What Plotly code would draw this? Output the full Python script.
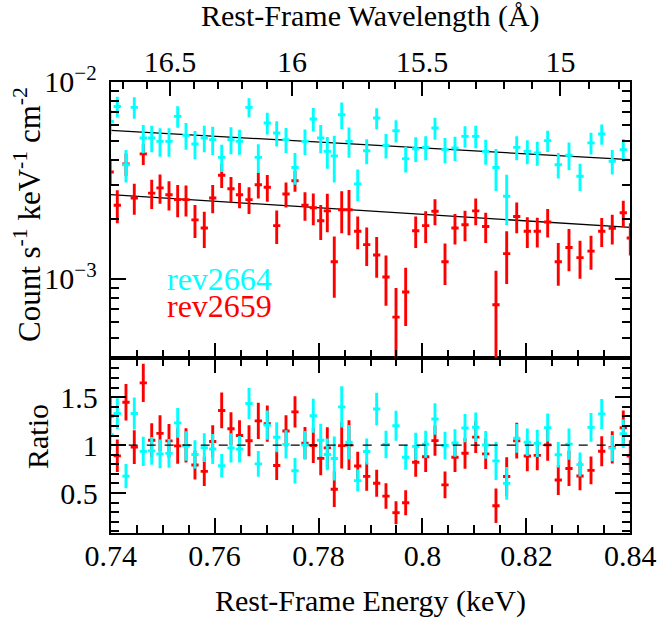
import numpy as np
import plotly.graph_objects as go

# ---------------- data ----------------
ENERGY_KEV = [0.7399, 0.74127, 0.74294, 0.74454, 0.74627, 0.74789, 0.74949, 0.75122, 0.75289, 0.75449,
              0.75622, 0.75801, 0.75963, 0.76136, 0.76315, 0.76479, 0.76662, 0.76841, 0.77014, 0.77195,
              0.77374, 0.77547, 0.77739, 0.77899, 0.78042, 0.78169, 0.78303, 0.78446, 0.78586, 0.78754,
              0.78927, 0.79119, 0.79298, 0.79491, 0.79677, 0.79870, 0.80062, 0.80241, 0.80434, 0.80626,
              0.80819, 0.81025, 0.81217, 0.81415, 0.81621, 0.81814, 0.82018, 0.82210, 0.82410, 0.82614,
              0.82820, 0.83032, 0.83244, 0.83450, 0.83653, 0.83865, 0.84000]

RATE_UNIT = 1e-3  # counts s^-1 keV^-1 cm^-2

# rev2664 (cyan)
CYAN_RATE = [6.28, 7.49, 3.79, 7.41, 5.18, 5.18, 4.98, 4.98, 6.67, 5.34,
             4.83, 5.18, 5.08, 4.13, 5.08, 4.98, 7.41, 4.13, 6.17, 5.49,
             5.08, 3.67, 4.98, 6.47, 5.18, 4.43, 4.20, 6.80, 4.98, 3.03,
             4.46, 6.54, 4.75, 5.64, 4.07, 4.57, 4.64, 5.82, 4.52, 4.61,
             5.28, 5.28, 4.43, 3.67, 2.62, 4.64, 4.43, 4.35, 5.02, 3.79,
             4.23, 3.31, 4.89, 5.43, 3.94, 4.52, None]
CYAN_ERR = [0.90, 0.90, 0.71, 0.93, 0.85, 0.80, 0.82, 0.82, 0.84, 0.83,
            0.79, 0.80, 0.83, 0.65, 0.80, 0.72, 0.83, 0.69, 0.78, 0.80,
            0.74, 0.67, 0.74, 0.88, 0.85, 0.81, 1.12, 1.05, 0.87, 0.55,
            0.65, 0.80, 0.68, 0.73, 0.61, 0.66, 0.65, 0.75, 0.66, 0.65,
            0.66, 0.69, 0.64, 0.88, 0.75, 0.65, 0.62, 0.61, 0.62, 0.56,
            0.68, 0.52, 0.62, 0.64, 0.56, 0.60, None]

# rev2659 (red)
RED_RATE = [3.48, 2.36, 3.82, 2.57, 4.30, 2.72, 2.89, 2.67, 2.52, 2.52,
            1.99, 1.81, 2.57, 3.35, 2.86, 2.67, 2.52, 3.00, 2.91, 1.86,
            2.69, 3.14, 2.36, 2.29, 1.97, 2.21, 1.22, 2.24, 2.24, 1.74,
            1.49, 1.32, 1.02, 0.638, 0.856, 1.75, 1.86, 2.20, 1.22, 1.81,
            1.88, 2.21, 1.84, 0.738, 1.34, 2.07, 1.74, 1.74, 1.94, 1.22,
            1.44, 1.28, 1.38, 1.74, 1.80, 2.16, 1.61]
RED_ERR = [0.50, 0.45, 0.50, 0.46, 0.52, 0.46, 0.49, 0.45, 0.47, 0.45,
           0.38, 0.38, 0.42, 0.46, 0.42, 0.39, 0.39, 0.45, 0.45, 0.36,
           0.39, 0.38, 0.39, 0.42, 0.40, 0.49, 0.42, 0.54, 0.58, 0.33,
           0.33, 0.31, 0.29, 0.26, 0.28, 0.32, 0.34, 0.33, 0.29, 0.32,
           0.33, 0.34, 0.32, 0.36, 0.40, 0.37, 0.31, 0.30, 0.32, 0.30,
           0.35, 0.28, 0.27, 0.29, 0.31, 0.33, 0.30]

BIN_HALF_WIDTH_KEV = 0.0007

# continuum models (power law, straight in log space over this band)
MODEL_E = [0.74, 0.84]
CYAN_MODEL = [5.66, 4.02]
RED_MODEL = [2.67, 1.82]

SERIES_NAMES = ["rev2664", "rev2659"]
WAVE_MAJOR = [16.5, 16.0, 15.5, 15.0]
WAVE_LABELS = ["16.5", "16", "15.5", "15"]
HC_KEV_A = 12.3984

# ---------------- derived ----------------
def arr(v):
    return np.array([np.nan if x is None else x for x in v], dtype=float)

E = np.array(ENERGY_KEV)
cy, cye = arr(CYAN_RATE) * RATE_UNIT, arr(CYAN_ERR) * RATE_UNIT
rd, rde = arr(RED_RATE) * RATE_UNIT, arr(RED_ERR) * RATE_UNIT
cm = np.array(CYAN_MODEL) * RATE_UNIT
rm = np.array(RED_MODEL) * RATE_UNIT

def model_at(e, mvals):
    return 10 ** np.interp(e, MODEL_E, np.log10(mvals))

cy_model = model_at(E, cm)
rd_model = model_at(E, rm)
cy_ratio, cy_ratio_err = cy / cy_model, cye / cy_model
rd_ratio, rd_ratio_err = rd / rd_model, rde / rd_model

CYAN = "#00FFFF"
RED = "#FF0000"
FONT = "Liberation Serif"
W, H = 661, 619

xdom = [110.7 / W, 630.3 / W]
top_dom = [(H - 357.7) / H, (H - 81.7) / H]
bot_dom = [(H - 533.0) / H, (H - 357.7) / H]

fig = go.Figure()

def data_trace(x, y, ey, color, xa, ya):
    return go.Scatter(
        x=x, y=y, mode="markers", xaxis=xa, yaxis=ya,
        marker=dict(size=0, color=color, opacity=0),
        error_y=dict(type="data", array=ey, color=color, thickness=2.9, width=0),
        error_x=dict(type="data", array=np.full(len(x), BIN_HALF_WIDTH_KEV), color=color,
                     thickness=2.9, width=0),
        showlegend=False, hoverinfo="skip")

# top panel
fig.add_trace(go.Scatter(x=MODEL_E, y=cm, mode="lines", xaxis="x2", yaxis="y2",
                         line=dict(color="black", width=1.3), showlegend=False, hoverinfo="skip"))
fig.add_trace(go.Scatter(x=MODEL_E, y=rm, mode="lines", xaxis="x2", yaxis="y2",
                         line=dict(color="black", width=1.3), showlegend=False, hoverinfo="skip"))
fig.add_trace(data_trace(E, rd, rde, RED, "x2", "y2"))
fig.add_trace(data_trace(E, cy, cye, CYAN, "x2", "y2"))
# invisible trace to activate wavelength axis
fig.add_trace(go.Scatter(x=MODEL_E, y=cm, mode="lines", xaxis="x3", yaxis="y2",
                         line=dict(color="rgba(0,0,0,0)", width=0), showlegend=False, hoverinfo="skip"))

# bottom panel
fig.add_trace(data_trace(E, rd_ratio, rd_ratio_err, RED, "x", "y"))
fig.add_trace(data_trace(E, cy_ratio, cy_ratio_err, CYAN, "x", "y"))

fig.add_hline(y=1, line=dict(color="black", width=1.2, dash="dash"), xref="x", yref="y")

tickfont = dict(family=FONT, size=30, color="black")
common = dict(showgrid=False, zeroline=False, showline=True, linewidth=2, linecolor="black",
              ticks="inside", tickwidth=2, tickcolor="black", automargin=False)

fig.update_layout(
    width=W, height=H, autosize=False,
    margin=dict(l=0, r=0, t=0, b=0),
    paper_bgcolor="white", plot_bgcolor="white",
    showlegend=False,
    xaxis=dict(domain=xdom, anchor="y", range=[0.74, 0.84], tick0=0.74, dtick=0.02,
               ticklen=15, mirror="ticks", tickfont=tickfont, ticklabelstandoff=-5,
               minor=dict(tick0=0.74, dtick=0.005, ticklen=8, tickwidth=1.5, ticks="inside",
                          tickcolor="black"),
               **common),
    yaxis=dict(domain=bot_dom, anchor="x", range=[0.083, 1.912],
               tickvals=[0.5, 1, 1.5], ticktext=["0.5", "1", "1.5"],
               ticklen=15, mirror="ticks", tickfont=tickfont, ticklabelstandoff=5,
               minor=dict(tickvals=[round(0.1 * k, 1) for k in range(1, 20)], ticklen=8,
                          tickwidth=1.5, ticks="inside", tickcolor="black"),
               **common),
    xaxis2=dict(domain=xdom, anchor="y2", range=[0.74, 0.84], tick0=0.74, dtick=0.02,
                ticklen=15, mirror=True, showticklabels=False,
                minor=dict(tick0=0.74, dtick=0.005, ticklen=8, tickwidth=1.5, ticks="inside",
                           tickcolor="black"),
                **common),
    yaxis2=dict(domain=top_dom, anchor="x2", type="log", range=[-3.401, -2.0],
                tickvals=[1e-3, 1e-2], ticktext=["10<sup>\u22123</sup>", "10<sup>\u22122</sup>"],
                ticklen=15, mirror="ticks", tickfont=tickfont, ticklabelstandoff=6,
                minor=dict(tickvals=[k * 1e-4 for k in range(4, 10)] + [k * 1e-3 for k in range(2, 10)],
                           ticklen=8, tickwidth=1.5, ticks="inside", tickcolor="black"),
                **common),
    xaxis3=dict(overlaying="x2", anchor="y2", side="top", range=[0.74, 0.84],
                tickvals=[HC_KEV_A / w for w in WAVE_MAJOR], ticktext=WAVE_LABELS,
                ticklen=14, tickfont=tickfont, showgrid=False, zeroline=False, showline=False,
                ticks="inside", tickwidth=2, tickcolor="black", automargin=False,
                ticklabelstandoff=3,
                minor=dict(tickvals=[HC_KEV_A / w for w in np.round(np.arange(14.8, 16.75, 0.1), 1)
                                     if round(w * 2, 6) != round(w * 2)],
                           ticklen=7, tickwidth=1.5, ticks="inside", tickcolor="black")),
)

ann_font = dict(family=FONT, size=30, color="black")
fig.add_annotation(text="Rest-Frame Energy (keV)", x=370.5 / W, y=(H - 601) / H,
                   xref="paper", yref="paper", showarrow=False, font=ann_font,
                   xanchor="center", yanchor="middle")
fig.add_annotation(text="Rest-Frame Wavelength (\u00c5)", x=370.5 / W, y=(H - 16) / H,
                   xref="paper", yref="paper", showarrow=False, font=ann_font,
                   xanchor="center", yanchor="middle")
fig.add_annotation(text="Count s<sup>-1</sup> keV<sup>-1</sup> cm<sup>-2</sup>", x=28 / W, y=(H - 215) / H,
                   xref="paper", yref="paper", showarrow=False, font=dict(family=FONT, size=31, color="black"),
                   textangle=-90, xanchor="center", yanchor="middle")
fig.add_annotation(text="Ratio", x=38 / W, y=(H - 437) / H,
                   xref="paper", yref="paper", showarrow=False, font=ann_font, textangle=-90,
                   xanchor="center", yanchor="middle")
fig.add_annotation(text=SERIES_NAMES[0], x=165 / W, y=(H - 279) / H,
                   xref="paper", yref="paper", showarrow=False,
                   font=dict(family=FONT, size=32, color=CYAN), xanchor="left", yanchor="middle")
fig.add_annotation(text=SERIES_NAMES[1], x=165 / W, y=(H - 306) / H,
                   xref="paper", yref="paper", showarrow=False,
                   font=dict(family=FONT, size=32, color=RED), xanchor="left", yanchor="middle")

fig.write_html("out.html", config={"displayModeBar": False},
               post_script="document.body.style.margin='0px';")
